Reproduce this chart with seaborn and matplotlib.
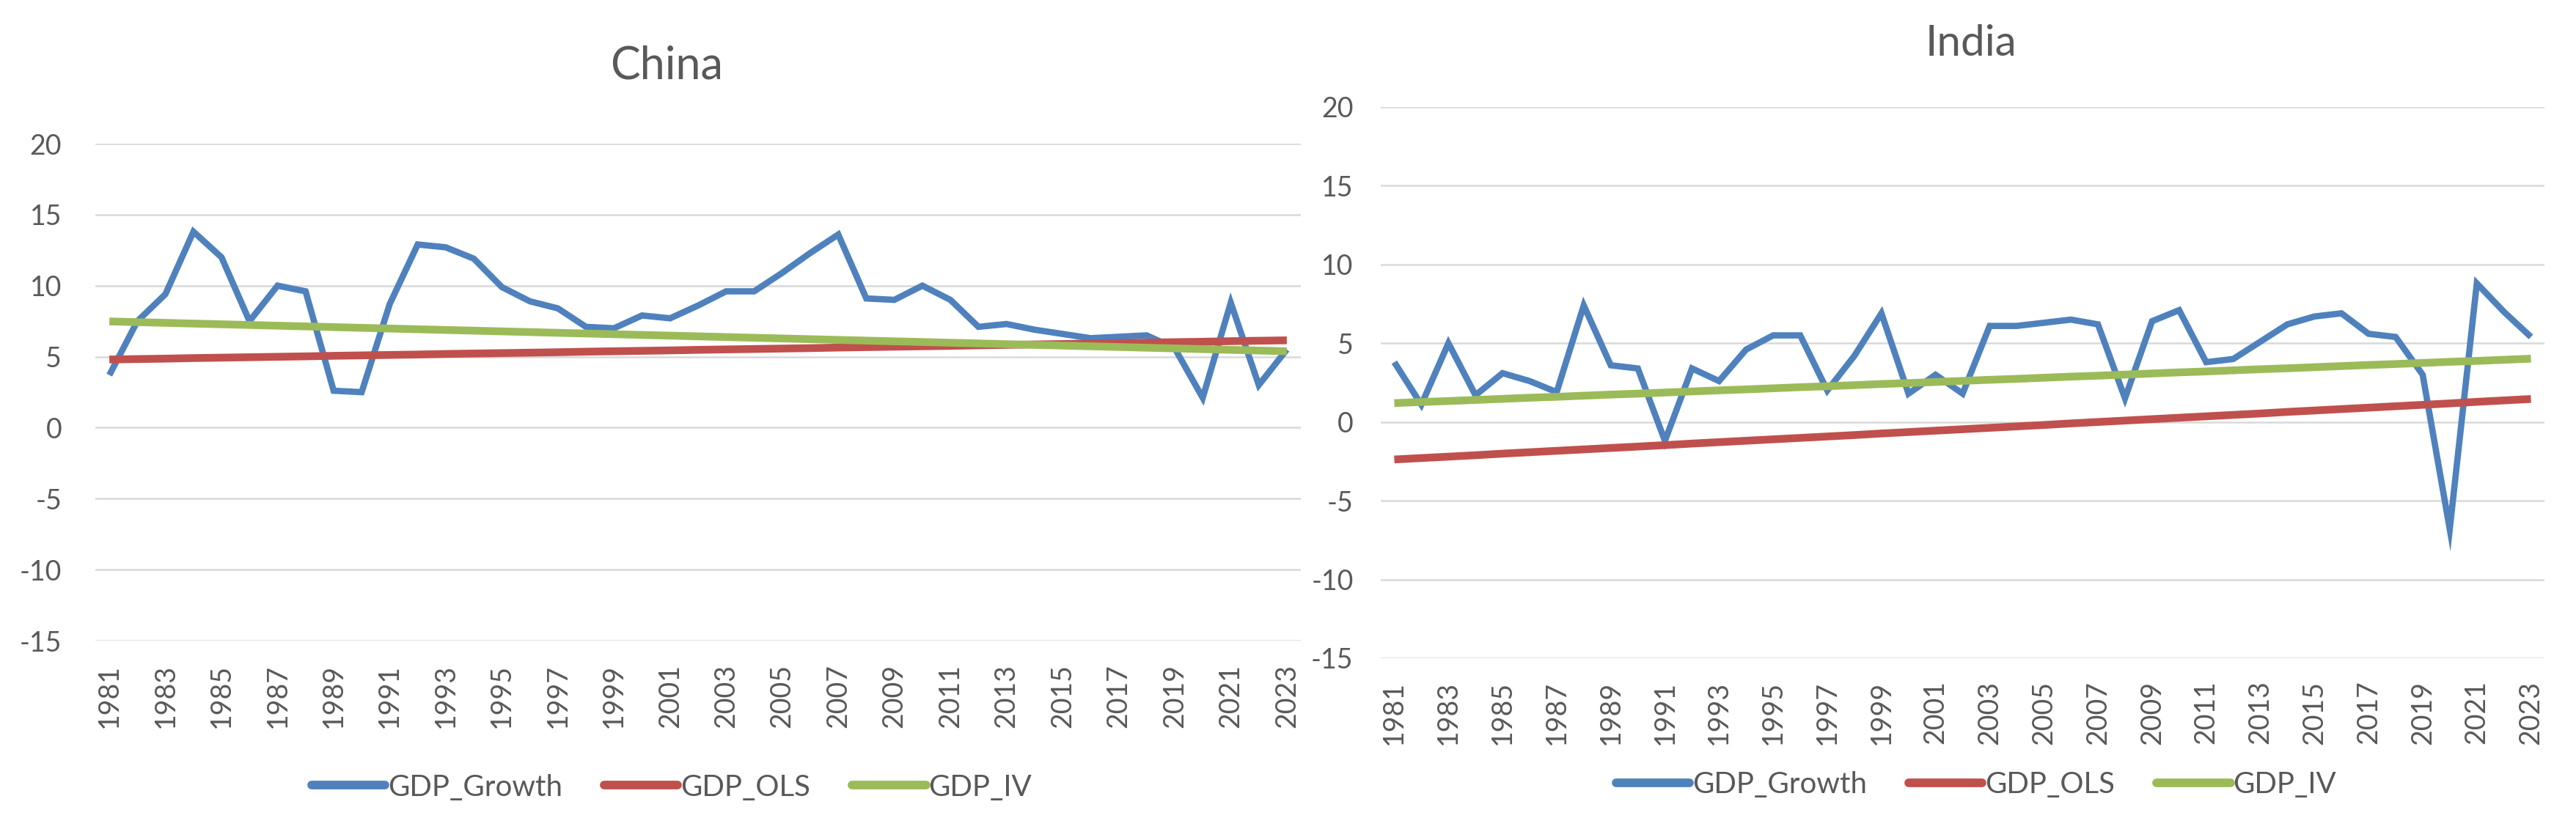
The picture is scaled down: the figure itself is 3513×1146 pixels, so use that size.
import matplotlib
matplotlib.use("Agg")
import matplotlib.pyplot as plt
import seaborn as sns
import numpy as np

years = list(range(1981, 2024))

china_growth = [3.7, 7.5, 9.4, 13.8, 12.0, 7.5, 10.0, 9.6, 2.6, 2.5, 8.7, 12.9, 12.7, 11.9, 9.9,
                8.9, 8.4, 7.1, 7.0, 7.9, 7.7, 8.6, 9.6, 9.6, 10.9, 12.3, 13.6, 9.1, 9.0, 10.0,
                9.0, 7.1, 7.3, 6.9, 6.6, 6.3, 6.4, 6.5, 5.6, 2.1, 8.8, 3.0, 5.5]
china_ols = [4.80, 4.83, 4.86, 4.90, 4.93, 4.96, 4.99, 5.02, 5.06, 5.09, 5.12, 5.15, 5.19, 5.22, 5.25,
             5.28, 5.31, 5.35, 5.38, 5.41, 5.44, 5.48, 5.51, 5.54, 5.57, 5.60, 5.64, 5.67, 5.70, 5.73,
             5.76, 5.80, 5.83, 5.86, 5.89, 5.93, 5.96, 5.99, 6.02, 6.05, 6.09, 6.12, 6.15]
china_iv = [7.48, 7.43, 7.38, 7.33, 7.28, 7.23, 7.18, 7.13, 7.08, 7.03, 6.98, 6.93, 6.88, 6.83, 6.78,
            6.73, 6.68, 6.63, 6.58, 6.53, 6.48, 6.43, 6.38, 6.33, 6.28, 6.23, 6.18, 6.13, 6.08, 6.03,
            5.98, 5.93, 5.88, 5.83, 5.78, 5.73, 5.68, 5.63, 5.58, 5.53, 5.48, 5.43, 5.38]

india_growth = [3.8, 1.1, 5.0, 1.7, 3.1, 2.6, 1.9, 7.4, 3.6, 3.4, -1.2, 3.4, 2.6, 4.6, 5.5,
                5.5, 2.0, 4.2, 6.9, 1.8, 3.0, 1.8, 6.1, 6.1, 6.3, 6.5, 6.2, 1.5, 6.4, 7.1,
                3.8, 4.0, 5.1, 6.2, 6.7, 6.9, 5.6, 5.4, 3.0, -6.8, 8.8, 7.0, 5.4]
india_ols = [-2.38, -2.29, -2.20, -2.11, -2.01, -1.92, -1.83, -1.74, -1.65, -1.56, -1.47, -1.37, -1.28,
             -1.19, -1.10, -1.01, -0.92, -0.83, -0.73, -0.64, -0.55, -0.46, -0.37, -0.28, -0.19, -0.09,
             0.00, 0.09, 0.18, 0.27, 0.36, 0.45, 0.54, 0.64, 0.73, 0.82, 0.91, 1.00, 1.09, 1.18, 1.28,
             1.37, 1.46]
india_iv = [1.20, 1.27, 1.33, 1.40, 1.47, 1.54, 1.60, 1.67, 1.74, 1.80, 1.87, 1.94, 2.01, 2.07, 2.14,
            2.21, 2.27, 2.34, 2.41, 2.47, 2.54, 2.61, 2.68, 2.74, 2.81, 2.88, 2.94, 3.01, 3.08, 3.15,
            3.21, 3.28, 3.35, 3.41, 3.48, 3.55, 3.62, 3.68, 3.75, 3.82, 3.88, 3.95, 4.02]

series_names = ["GDP_Growth", "GDP_OLS", "GDP_IV"]
colors = ["#4F81BD", "#C0504D", "#9BBB59"]
y_ticks = [20, 15, 10, 5, 0, -5, -10, -15]

sns.set_style("white")
FONT = ["Lato", "DejaVu Sans"]
plt.rcParams["font.family"] = FONT
TXT = "#595959"

W, H = 3513, 1146
fig = plt.figure(figsize=(W / 100, H / 100), dpi=100)

panels = [
    dict(name="China", data=[china_growth, china_ols, china_iv],
         box=(130, 196, 1774, 874), title_xy=(909, 90), title_size=44,
         legend_xy=(916, 1074), ytick_pad=33, xtick_pad=23),
    dict(name="India", data=[india_growth, india_ols, india_iv],
         box=(1883, 146, 3470, 898), title_xy=(2688, 59), title_size=42,
         legend_xy=(2695, 1071), ytick_pad=27, xtick_pad=22),
]

idx = list(range(len(years)))
for p in panels:
    x0, y0, x1, y1 = p["box"]
    ax = fig.add_axes([x0 / W, 1 - y1 / H, (x1 - x0) / W, (y1 - y0) / H])
    for k, (vals, name, col) in enumerate(zip(p["data"], series_names, colors)):
        lw = 6.2 if k == 0 else 7.6
        sns.lineplot(x=idx, y=vals, ax=ax, color=col, linewidth=lw, label=name,
                     solid_capstyle="butt", solid_joinstyle="miter", zorder=3 + k)
    ax.set_xlim(-0.5, len(years) - 0.5)
    ax.set_ylim(-15, 20)
    ax.set_yticks(y_ticks)
    ax.set_yticklabels([str(v) for v in y_ticks])
    ax.set_xticks(idx[::2])
    ax.set_xticklabels([str(y) for y in years[::2]], rotation=90)
    ax.tick_params(axis="y", length=0, pad=p["ytick_pad"], labelsize=27, labelcolor=TXT)
    ax.tick_params(axis="x", length=0, pad=p["xtick_pad"], labelsize=27, labelcolor=TXT)
    ax.grid(axis="y", color="#D9D9D9", linewidth=1.8, zorder=0)
    ax.grid(axis="x", visible=False)
    ax.set_axisbelow(True)
    for s in ax.spines.values():
        s.set_visible(False)
    ax.set_xlabel("")
    ax.set_ylabel("")
    ax.legend_.remove()
    handles, labels = ax.get_legend_handles_labels()
    lx, ly = p["legend_xy"]
    leg = fig.legend(handles, labels, loc="center", bbox_to_anchor=(lx / W, 1 - ly / H),
                     ncol=3, frameon=False, fontsize=29, handlelength=2.5,
                     handletextpad=0.1, columnspacing=1.4, labelcolor=TXT)
    for h in leg.get_lines():
        h.set_linewidth(8.5)
        h.set_solid_capstyle("round")
    tx, ty = p["title_xy"]
    fig.text(tx / W, 1 - ty / H, p["name"], ha="center", va="center",
             fontsize=p["title_size"], color=TXT)

fig.savefig("out.png", dpi=100, facecolor="white")
